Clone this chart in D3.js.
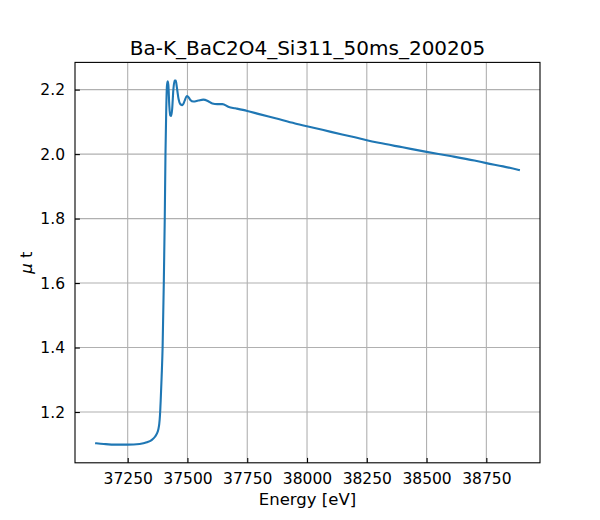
<!DOCTYPE html>
<html>
<head>
<meta charset="utf-8">
<script src="https://cdn.jsdelivr.net/npm/d3@7"></script>
<style>
  body { margin: 0; background: #fff; }
  text { font-family: "DejaVu Sans", sans-serif; fill: #000; }
</style>
</head>
<body>
<div id="chart"></div>
<script>
/* DATA */
const energy = [37118, 37150, 37200, 37250, 37300, 37330, 37350, 37365, 37372, 37378,
  37382, 37385, 37388, 37392, 37396, 37401, 37405, 37408, 37411, 37414, 37417,
  37420, 37424, 37428, 37432, 37436, 37441, 37446, 37451, 37456, 37463,
  37470, 37479, 37488, 37497, 37503, 37512, 37525, 37545, 37566, 37585,
  37604, 37625, 37646, 37673, 37700, 37750, 37800, 37868, 37950, 38027,
  38100, 38200, 38250, 38300, 38400, 38500, 38600, 38700, 38750, 38820, 38886];
const mut = [1.103, 1.101, 1.099, 1.099, 1.101, 1.106, 1.113, 1.124, 1.133, 1.146,
  1.163, 1.19, 1.235, 1.31, 1.40, 1.60, 1.80, 2.00, 2.13, 2.21, 2.226,
  2.215, 2.15, 2.12, 2.118, 2.14, 2.20, 2.228, 2.228, 2.205, 2.17,
  2.155, 2.152, 2.165, 2.180, 2.178, 2.168, 2.163, 2.166, 2.169, 2.165,
  2.157, 2.155, 2.155, 2.146, 2.142, 2.134, 2.124, 2.111, 2.095, 2.082,
  2.069, 2.052, 2.043, 2.035, 2.021, 2.007, 1.994, 1.980, 1.972, 1.962, 1.951];
const xTicks = [37250, 37500, 37750, 38000, 38250, 38500, 38750];
const yTicks = [1.2, 1.4, 1.6, 1.8, 2.0, 2.2];
const title = "Ba-K_BaC2O4_Si311_50ms_200205";

const width = 600, height = 520,
  margin = { top: 62.4, right: 60, bottom: 57.2, left: 75 };

const data = energy.map((e, i) => ({ e: e, v: mut[i] }));

// matplotlib style 5% padding
const xExt = d3.extent(energy), yExt = d3.extent(mut);
const xPad = (xExt[1] - xExt[0]) * 0.05, yPad = (yExt[1] - yExt[0]) * 0.05;

const xScale = d3.scaleLinear()
  .domain([xExt[0] - xPad, xExt[1] + xPad])
  .range([margin.left, width - margin.right]);
const yScale = d3.scaleLinear()
  .domain([yExt[0] - yPad, yExt[1] + yPad])
  .range([height - margin.bottom, margin.top]);

const svg = d3.select("#chart").append("svg")
  .attr("width", width)
  .attr("height", height);

// grid
svg.append("g")
  .selectAll("line")
  .data(xTicks)
  .join("line")
  .attr("x1", d => xScale(d)).attr("x2", d => xScale(d))
  .attr("y1", margin.top).attr("y2", height - margin.bottom)
  .attr("stroke", "#b0b0b0").attr("stroke-width", 1.1);
svg.append("g")
  .selectAll("line")
  .data(yTicks)
  .join("line")
  .attr("y1", d => yScale(d)).attr("y2", d => yScale(d))
  .attr("x1", margin.left).attr("x2", width - margin.right)
  .attr("stroke", "#b0b0b0").attr("stroke-width", 1.1);

// line
const line = d3.line()
  .x(d => xScale(d.e))
  .y(d => yScale(d.v))
  .curve(d3.curveMonotoneX);

svg.append("path")
  .datum(data)
  .attr("fill", "none")
  .attr("stroke", "#1f77b4")
  .attr("stroke-width", 2.1)
  .attr("stroke-linejoin", "round")
  .attr("stroke-linecap", "square")
  .attr("d", line);

// axes (ticks point inward)
const xAxis = d3.axisBottom(xScale).tickValues(xTicks).tickFormat(d3.format("d"))
  .tickSizeInner(-4.9).tickSizeOuter(0).tickPadding(10);
const yAxis = d3.axisLeft(yScale).tickValues(yTicks).tickFormat(d3.format(".1f"))
  .tickSizeInner(-4.9).tickSizeOuter(0).tickPadding(10);

const xAxisGroup = svg.append("g")
  .attr("transform", `translate(0, ${height - margin.bottom})`)
  .call(xAxis);
const yAxisGroup = svg.append("g")
  .attr("transform", `translate(${margin.left}, 0)`)
  .call(yAxis);

[xAxisGroup, yAxisGroup].forEach(g => {
  g.select(".domain").remove();
  g.selectAll(".tick line").attr("stroke", "#000").attr("stroke-width", 1.1);
  g.selectAll(".tick text").attr("font-size", 15.5).attr("font-family", "DejaVu Sans");
});

// frame
svg.append("rect")
  .attr("x", margin.left).attr("y", margin.top)
  .attr("width", width - margin.left - margin.right)
  .attr("height", height - margin.top - margin.bottom)
  .attr("fill", "none").attr("stroke", "#000").attr("stroke-width", 1.1);

// labels
svg.append("text")
  .attr("x", (margin.left + width - margin.right) / 2)
  .attr("y", 55)
  .attr("text-anchor", "middle")
  .attr("font-size", 20)
  .text(title);

svg.append("text")
  .attr("x", (margin.left + width - margin.right) / 2)
  .attr("y", 505)
  .attr("text-anchor", "middle")
  .attr("font-size", 16.5)
  .text("Energy [eV]");

const yLab = svg.append("text")
  .attr("transform", `translate(32, ${(margin.top + height - margin.bottom) / 2}) rotate(-90)`)
  .attr("text-anchor", "middle")
  .attr("font-size", 16.5);
yLab.append("tspan").attr("font-style", "italic").text("\u03bc");
yLab.append("tspan").text(" t");
</script>
</body>
</html>
